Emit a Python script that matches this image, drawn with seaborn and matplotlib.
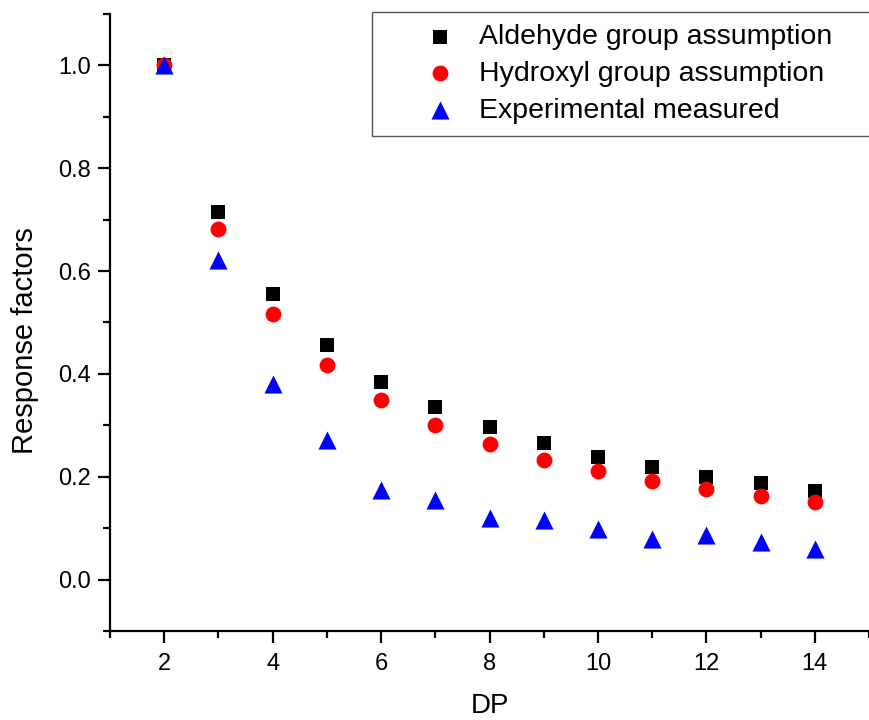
import matplotlib
matplotlib.use("Agg")
import matplotlib.pyplot as plt
import seaborn as sns
import pandas as pd
from matplotlib.ticker import MultipleLocator

dp = [2, 3, 4, 5, 6, 7, 8, 9, 10, 11, 12, 13, 14]
aldehyde = [1.0, 0.714, 0.556, 0.457, 0.385, 0.335, 0.296, 0.265, 0.239, 0.218, 0.200, 0.187, 0.173]
hydroxyl = [1.0, 0.681, 0.516, 0.418, 0.350, 0.300, 0.263, 0.233, 0.212, 0.191, 0.177, 0.163, 0.150]
experimental = [1.0, 0.621, 0.381, 0.272, 0.175, 0.154, 0.120, 0.115, 0.098, 0.079, 0.087, 0.073, 0.060]
labels = ["Aldehyde group assumption", "Hydroxyl group assumption", "Experimental measured"]

sns.set_theme(style="ticks")
plt.rcParams['font.family'] = ['Liberation Sans', 'DejaVu Sans']
plt.rcParams['text.color'] = 'black'
plt.rcParams['axes.labelcolor'] = 'black'

fig = plt.figure(figsize=(8.69, 7.2), dpi=100)
ax = fig.add_axes([0.1266, 0.1236, 0.8734, 0.857])

df_a = pd.DataFrame({"DP": dp, "RF": aldehyde})
df_h = pd.DataFrame({"DP": dp, "RF": hydroxyl})
df_e = pd.DataFrame({"DP": dp, "RF": experimental})

sns.scatterplot(data=df_a, x="DP", y="RF", marker="s", color="black", s=105,
                linewidth=0, label=labels[0], ax=ax, zorder=3)
sns.scatterplot(data=df_h, x="DP", y="RF", marker="o", color="red", s=130,
                linewidth=0, label=labels[1], ax=ax, zorder=4)
sns.scatterplot(data=df_e, x="DP", y="RF", marker="^", color="blue", s=170,
                linewidth=0, label=labels[2], ax=ax, zorder=5)

ax.set_xlim(1, 15)
ax.set_ylim(-0.1, 1.1)
ax.xaxis.set_major_locator(MultipleLocator(2))
ax.xaxis.set_minor_locator(MultipleLocator(1))
ax.yaxis.set_major_locator(MultipleLocator(0.2))
ax.yaxis.set_minor_locator(MultipleLocator(0.1))
ax.set_xticks([2, 4, 6, 8, 10, 12, 14])
ax.set_yticks([0.0, 0.2, 0.4, 0.6, 0.8, 1.0])
ax.set_yticklabels(["0.0", "0.2", "0.4", "0.6", "0.8", "1.0"])

for side in ["top", "right"]:
    ax.spines[side].set_visible(False)
for side in ["left", "bottom"]:
    ax.spines[side].set_linewidth(1.6)
    ax.spines[side].set_color("black")

ax.tick_params(which="major", direction="out", length=8.5, width=1.6, labelsize=17, colors="black")
ax.tick_params(axis="y", which="major", pad=5)
ax.tick_params(axis="x", which="major", pad=7)
ax.tick_params(which="minor", direction="out", length=5, width=1.6, colors="black")

ax.set_xlabel("DP", fontsize=20, labelpad=13, color="black")
ax.set_ylabel("Response factors", fontsize=21, labelpad=14, color="black")
ax.yaxis.label.set_y(0.47)

leg = ax.legend(loc="upper left", bbox_to_anchor=(0.345, 1.003, 0.7, 0), mode="expand",
                fontsize=20.5, frameon=True, fancybox=False, edgecolor="#555555",
                framealpha=1, borderpad=0.42, handletextpad=-0.59, labelspacing=0.38,
                borderaxespad=0, handlelength=3.95, labelcolor="black")
leg.get_frame().set_linewidth(1.0)

fig.savefig("out.png", dpi=100)
